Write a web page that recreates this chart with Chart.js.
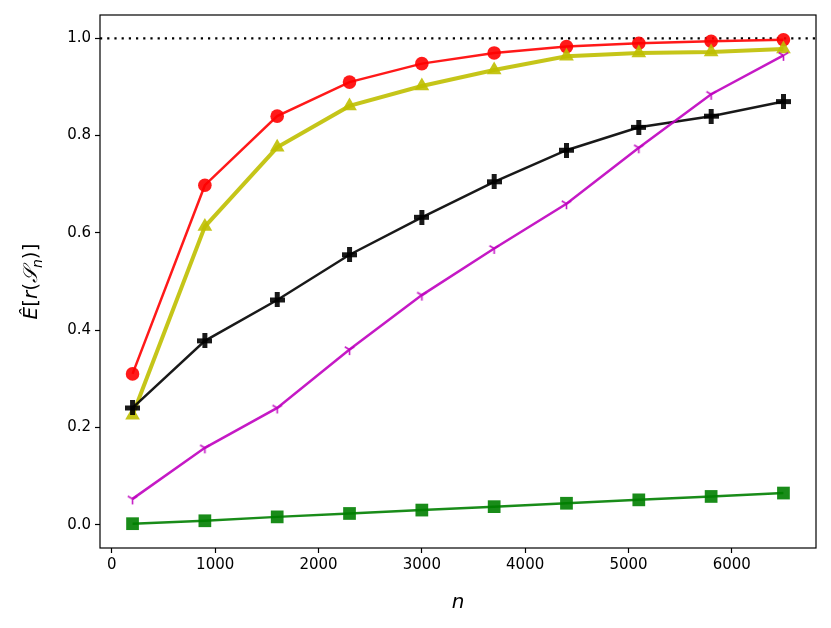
<!DOCTYPE html>
<html>
<head>
<meta charset="utf-8">
<script src="https://cdn.jsdelivr.net/npm/chart.js@4.4.1/dist/chart.umd.min.js"></script>
<style>
  html, body { margin: 0; padding: 0; background: #fff; }
  #wrap { width: 831px; height: 628px; }
</style>
</head>
<body>
<div id="wrap"><canvas id="chart" width="831" height="628"></canvas></div>
<script>
// data
const sizes = [200, 900, 1600, 2300, 3000, 3700, 4400, 5100, 5800, 6500];
const redCircle = [0.31, 0.698, 0.84, 0.91, 0.948, 0.97, 0.983, 0.99, 0.994, 0.997];
const yellowTri = [0.225, 0.613, 0.776, 0.861, 0.902, 0.935, 0.963, 0.970, 0.972, 0.978];
const blackPlus = [0.24, 0.378, 0.462, 0.555, 0.632, 0.705, 0.77, 0.817, 0.84, 0.87];
const magentaY = [0.053, 0.158, 0.24, 0.36, 0.472, 0.568, 0.66, 0.775, 0.885, 0.965];
const greenSquare = [0.002, 0.008, 0.016, 0.023, 0.030, 0.037, 0.044, 0.051, 0.058, 0.065];
const xTicks = [0, 1000, 2000, 3000, 4000, 5000, 6000];
const yTicks = [0, 0.2, 0.4, 0.6, 0.8, 1.0];
const refLine = 1.0;

const FONT = 'DejaVu Sans';

function pts(vals) {
    return vals.map((v, i) => ({ x: sizes[i], y: v }));
}

// filled plus marker (matplotlib 'P')
function plusMarker(size, color) {
    const c = document.createElement('canvas');
    c.width = size; c.height = size;
    const g = c.getContext('2d');
    const t = size / 3;
    g.fillStyle = color;
    g.fillRect(t, 0, t, size);
    g.fillRect(0, t, size, t);
    return c;
}

// tri_down marker (matplotlib '1')
function triDownMarker(size, color) {
    const c = document.createElement('canvas');
    c.width = size; c.height = size;
    const g = c.getContext('2d');
    const m = size / 2, r = size / 2 - 1;
    g.strokeStyle = color;
    g.lineWidth = 1.6;
    g.beginPath();
    g.moveTo(m, m); g.lineTo(m, m + r);
    g.moveTo(m, m); g.lineTo(m - r * 0.866, m - r * 0.5);
    g.moveTo(m, m); g.lineTo(m + r * 0.866, m - r * 0.5);
    g.stroke();
    return c;
}

// frame, dotted reference line and axis labels
const decor = {
    id: 'decor',
    beforeDatasetsDraw(chart) {
        const { ctx, chartArea: a, scales } = chart;
        const y = scales.y.getPixelForValue(refLine);
        ctx.save();
        ctx.strokeStyle = '#000';
        ctx.lineWidth = 2.2;
        ctx.setLineDash([2.2, 5]);
        ctx.beginPath();
        ctx.moveTo(a.left, y);
        ctx.lineTo(a.right, y);
        ctx.stroke();
        ctx.restore();
    },
    afterDraw(chart) {
        const { ctx, chartArea: a } = chart;
        ctx.save();
        ctx.strokeStyle = '#000';
        ctx.lineWidth = 1.2;
        ctx.strokeRect(a.left, a.top, a.right - a.left, a.bottom - a.top);

        // x label
        ctx.fillStyle = '#000';
        ctx.font = 'italic 20px ' + FONT;
        ctx.textAlign = 'center';
        ctx.textBaseline = 'alphabetic';
        ctx.fillText('n', (a.left + a.right) / 2, 608);

        // y label: Ê[r(S_n)]
        ctx.translate(37, (a.top + a.bottom) / 2);
        ctx.rotate(-Math.PI / 2);
        const parts = [
            ['italic 20px ' + FONT, 'Ê', 0],
            ['20px ' + FONT, '[', 0],
            ['italic 20px ' + FONT, 'r', 0],
            ['20px ' + FONT, '(', 0],
            ['italic 20px ' + FONT, '𝒮', 0],
            ['italic 14px ' + FONT, 'n', 5],
            ['20px ' + FONT, ')]', 0]
        ];
        let w = 0;
        parts.forEach(p => { ctx.font = p[0]; w += ctx.measureText(p[1]).width; });
        let xpos = -w / 2;
        ctx.textAlign = 'left';
        parts.forEach(p => {
            ctx.font = p[0];
            ctx.fillText(p[1], xpos, p[2]);
            xpos += ctx.measureText(p[1]).width;
        });
        ctx.restore();
    }
};

const red = 'rgba(255,0,0,0.9)';
const yellow = 'rgba(191,191,0,0.9)';
const black = 'rgba(0,0,0,0.9)';
const magenta = 'rgba(191,0,191,0.9)';
const green = 'rgba(0,128,0,0.9)';

new Chart(document.getElementById('chart'), {
    type: 'line',
    data: {
        datasets: [
            {
                data: pts(greenSquare), borderColor: green, backgroundColor: green,
                borderWidth: 2.5, pointStyle: 'rect', pointRadius: 9, pointBorderWidth: 0
            },
            {
                data: pts(magentaY), borderColor: magenta, backgroundColor: magenta,
                borderWidth: 2.5, pointStyle: triDownMarker(13, magenta), pointRadius: 6
            },
            {
                data: pts(blackPlus), borderColor: black, backgroundColor: black,
                borderWidth: 2.5, pointStyle: plusMarker(15, black), pointRadius: 7.5
            },
            {
                data: pts(yellowTri), borderColor: yellow, backgroundColor: yellow,
                borderWidth: 4, pointStyle: 'triangle', pointRadius: 8.5, pointBorderWidth: 0
            },
            {
                data: pts(redCircle), borderColor: red, backgroundColor: red,
                borderWidth: 2.5, pointStyle: 'circle', pointRadius: 6.8, pointBorderWidth: 0
            }
        ]
    },
    options: {
        responsive: false,
        animation: false,
        devicePixelRatio: 1,
        layout: { padding: { top: 15, right: 15, left: 0, bottom: 0 } },
        plugins: { legend: { display: false }, tooltip: { enabled: false } },
        elements: { line: { tension: 0 } },
        scales: {
            x: {
                type: 'linear',
                min: -115,
                max: 6815,
                afterBuildTicks(s) { s.ticks = xTicks.map(v => ({ value: v })); },
                afterFit(s) { s.height = 80; },
                grid: { drawOnChartArea: false, drawTicks: true, tickLength: 5, color: '#000', tickWidth: 1.2 },
                border: { display: false },
                ticks: {
                    color: '#000', font: { family: FONT, size: 15 }, padding: 3,
                    maxRotation: 0, callback: v => String(v)
                }
            },
            y: {
                min: -0.048,
                max: 1.048,
                afterBuildTicks(s) { s.ticks = yTicks.map(v => ({ value: v })); },
                afterFit(s) { s.width = 100; },
                grid: { drawOnChartArea: false, drawTicks: true, tickLength: 5, color: '#000', tickWidth: 1.2 },
                border: { display: false },
                ticks: {
                    color: '#000', font: { family: FONT, size: 15 }, padding: 4,
                    callback: v => v.toFixed(1)
                }
            }
        }
    },
    plugins: [decor]
});
</script>
</body>
</html>
